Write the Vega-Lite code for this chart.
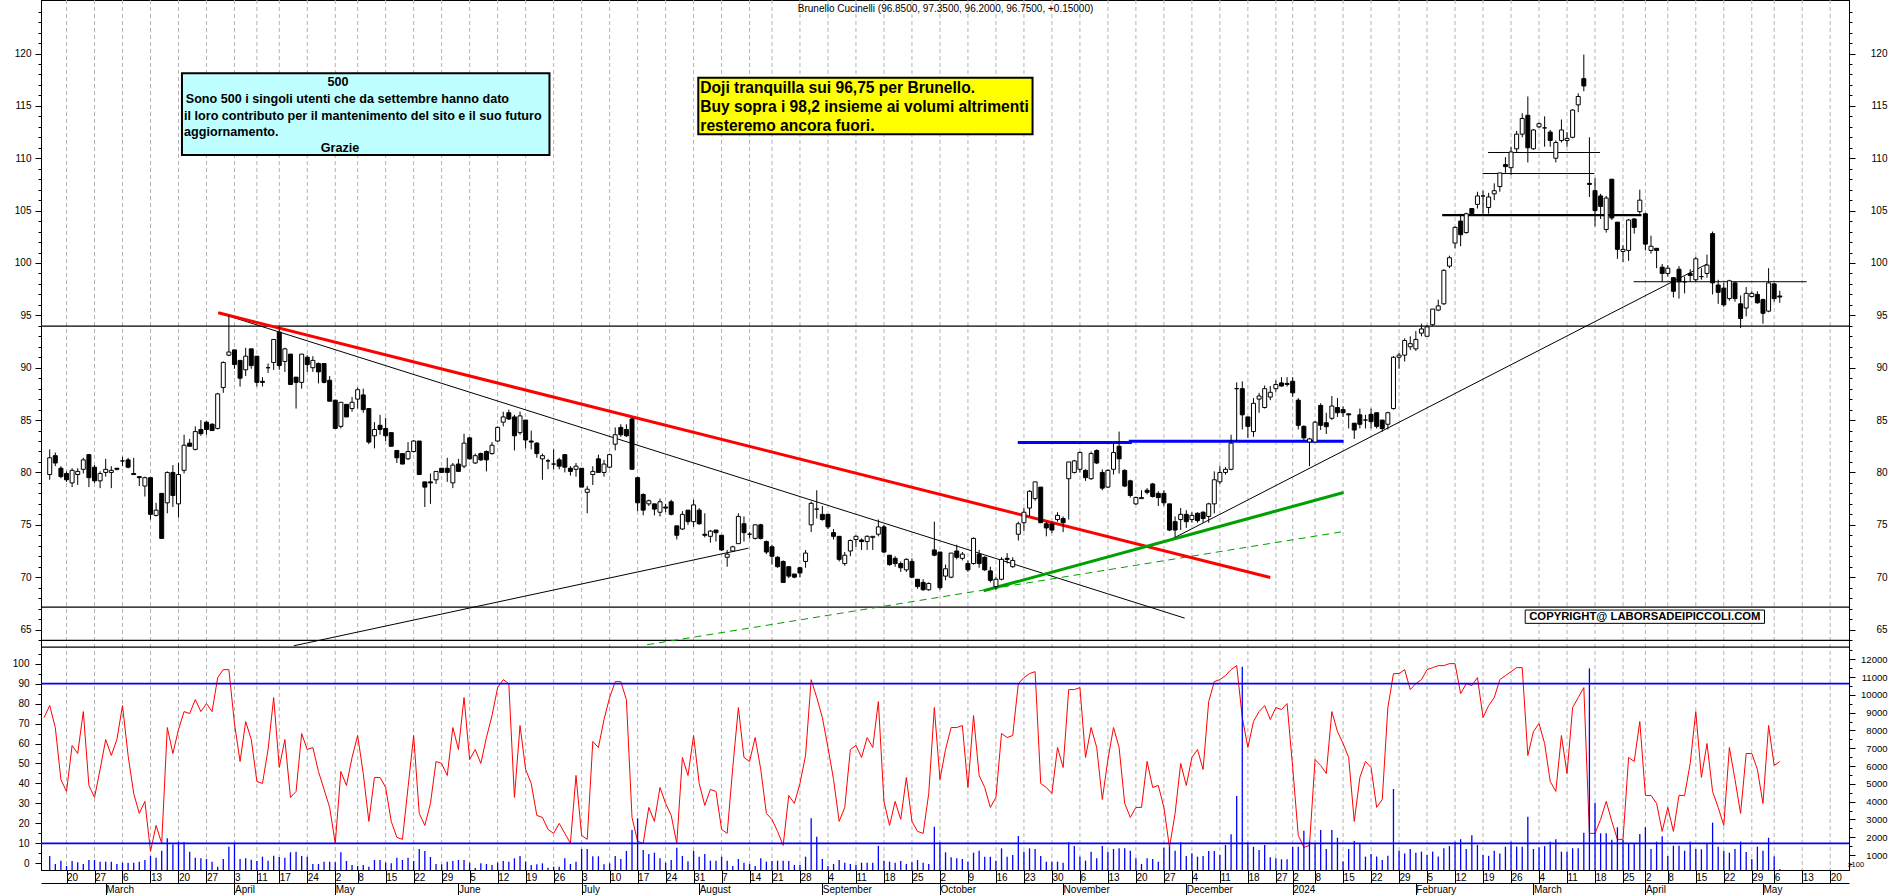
{
"$schema":"https://vega.github.io/schema/vega-lite/v6.json",
"autosize":"none",
"padding":{"left":41,"top":0,"right":41,"bottom":25},
"background":"white",
"width":1808,"height":870,
"config":{"view":{"stroke":"black","strokeWidth":1},"axis":{"labelFont":"Liberation Sans","labelColor":"black","tickColor":"black","domainColor":"black","labelFontSize":10,"grid":false,"title":null},"text":{"font":"Liberation Sans"}},
"resolve":{"scale":{"y":"independent"},"axis":{"x":"independent","y":"independent"}},
"datasets":{
"weeks":[{"i":4},{"i":9},{"i":14},{"i":19},{"i":24},{"i":29},{"i":34},{"i":38},{"i":42},{"i":47},{"i":52},{"i":56},{"i":61},{"i":66},{"i":71},{"i":76},{"i":81},{"i":86},{"i":91},{"i":96},{"i":101},{"i":106},{"i":111},{"i":116},{"i":121},{"i":126},{"i":130},{"i":135},{"i":140},{"i":145},{"i":150},{"i":155},{"i":160},{"i":165},{"i":170},{"i":175},{"i":180},{"i":185},{"i":190},{"i":195},{"i":200},{"i":205},{"i":210},{"i":215},{"i":220},{"i":223},{"i":227},{"i":232},{"i":237},{"i":242},{"i":247},{"i":252},{"i":257},{"i":262},{"i":267},{"i":272},{"i":277},{"i":282},{"i":286},{"i":290},{"i":295},{"i":300},{"i":305},{"i":309},{"i":314},{"i":319}],
"d":[
{"i":0,"k":73},
{"i":1,"o":79.8,"h":82.2,"l":79.3,"c":81.4,"k":79,"v":944},
{"i":2,"o":81.6,"h":81.9,"l":80.6,"c":80.9,"k":68,"v":494},
{"i":3,"o":80.4,"h":80.6,"l":79.45,"c":79.6,"k":42,"v":682},
{"i":4,"o":79.9,"h":80.1,"l":79.1,"c":79.3,"k":36,"v":382},
{"i":5,"o":79.0,"h":80.4,"l":78.6,"c":80.2,"k":59,"v":663},
{"i":6,"o":79.8,"h":80.4,"l":78.8,"c":80.1,"k":55,"v":588},
{"i":7,"o":80.3,"h":81.4,"l":79.9,"c":81.2,"k":76,"v":494},
{"i":8,"o":81.7,"h":81.7,"l":78.6,"c":79.5,"k":39,"v":720},
{"i":9,"o":80.5,"h":80.7,"l":79.0,"c":79.2,"k":33,"v":720},
{"i":10,"o":79.2,"h":80.1,"l":78.5,"c":79.9,"k":47,"v":626},
{"i":11,"o":80.0,"h":81.3,"l":79.6,"c":80.3,"k":62,"v":626},
{"i":12,"o":80.0,"h":80.6,"l":78.5,"c":80.2,"k":54,"v":626},
{"i":13,"o":80.4,"h":80.4,"l":80.2,"c":80.3,"k":62,"v":494},
{"i":14,"o":81.1,"h":81.5,"l":80.6,"c":81.1,"k":79,"v":570},
{"i":15,"o":81.2,"h":81.4,"l":80.4,"c":80.5,"k":54,"v":570},
{"i":16,"o":79.9,"h":81.4,"l":79.8,"c":79.8,"k":35,"v":570},
{"i":17,"o":79.6,"h":79.6,"l":78.7,"c":79.5,"k":25,"v":626},
{"i":18,"o":78.7,"h":79.6,"l":77.7,"c":79.5,"k":31,"v":720},
{"i":19,"o":79.5,"h":79.5,"l":75.5,"c":76.0,"k":6,"v":944},
{"i":20,"o":75.9,"h":77.1,"l":75.8,"c":76.4,"k":19,"v":851},
{"i":21,"o":78.0,"h":78.0,"l":73.7,"c":73.7,"k":10,"v":1244},
{"i":22,"o":77.1,"h":80.1,"l":76.1,"c":80.0,"k":68,"v":1937},
{"i":23,"o":80.0,"h":80.7,"l":76.7,"c":77.8,"k":55,"v":1600},
{"i":24,"o":77.0,"h":80.9,"l":75.7,"c":79.8,"k":67,"v":1750},
{"i":25,"o":80.2,"h":83.6,"l":79.9,"c":82.6,"k":76,"v":1731},
{"i":26,"o":82.8,"h":83.2,"l":82.5,"c":82.5,"k":75,"v":1188},
{"i":27,"o":82.2,"h":84.4,"l":82.1,"c":83.9,"k":82,"v":851},
{"i":28,"o":84.1,"h":85.0,"l":83.5,"c":83.7,"k":76,"v":813},
{"i":29,"o":84.8,"h":84.9,"l":83.6,"c":84.1,"k":80,"v":776},
{"i":30,"o":84.6,"h":84.7,"l":84.0,"c":84.0,"k":76,"v":626},
{"i":31,"o":84.2,"h":87.6,"l":84.1,"c":87.5,"k":93,"v":345},
{"i":32,"o":88.1,"h":90.6,"l":87.6,"c":90.5,"k":97,"v":776},
{"i":33,"o":91.2,"h":95.0,"l":91.1,"c":91.5,"k":97,"v":1462},
{"i":34,"o":91.7,"h":91.7,"l":89.9,"c":90.3,"k":70,"v":1712},
{"i":35,"o":90.7,"h":90.7,"l":88.2,"c":89.0,"k":51,"v":776},
{"i":36,"o":89.8,"h":91.9,"l":89.2,"c":91.1,"k":71,"v":813},
{"i":37,"o":91.8,"h":91.8,"l":89.9,"c":90.2,"k":62,"v":738},
{"i":38,"o":91.1,"h":91.1,"l":88.2,"c":88.6,"k":41,"v":663},
{"i":39,"o":88.7,"h":89.1,"l":88.2,"c":88.6,"k":40,"v":907},
{"i":40,"o":90.0,"h":90.4,"l":89.5,"c":90.0,"k":57,"v":682},
{"i":41,"o":90.5,"h":92.7,"l":89.8,"c":92.7,"k":83,"v":963},
{"i":42,"o":93.4,"h":93.9,"l":89.8,"c":90.2,"k":48,"v":888},
{"i":43,"o":90.6,"h":91.9,"l":89.6,"c":91.8,"k":62,"v":851},
{"i":44,"o":91.3,"h":91.3,"l":88.4,"c":88.4,"k":33,"v":1150},
{"i":45,"o":89.1,"h":89.1,"l":86.1,"c":88.6,"k":36,"v":1188},
{"i":46,"o":88.6,"h":91.3,"l":88.0,"c":91.3,"k":65,"v":944},
{"i":47,"o":91.0,"h":91.2,"l":89.6,"c":90.3,"k":57,"v":907},
{"i":48,"o":90.0,"h":91.1,"l":89.6,"c":90.7,"k":58,"v":494},
{"i":49,"o":90.4,"h":90.5,"l":88.5,"c":89.6,"k":46,"v":494},
{"i":50,"o":90.4,"h":90.4,"l":88.5,"c":88.6,"k":37,"v":626},
{"i":51,"o":88.8,"h":89.2,"l":86.8,"c":86.8,"k":28,"v":626},
{"i":52,"o":86.9,"h":86.9,"l":84.2,"c":84.2,"k":10,"v":588},
{"i":53,"o":84.4,"h":86.7,"l":84.2,"c":86.7,"k":46,"v":1150},
{"i":54,"o":86.5,"h":86.5,"l":85.3,"c":85.3,"k":39,"v":663},
{"i":55,"o":86.1,"h":87.2,"l":85.8,"c":86.7,"k":53,"v":438},
{"i":56,"o":87.0,"h":88.1,"l":86.1,"c":87.9,"k":64,"v":382},
{"i":57,"o":87.4,"h":88.0,"l":85.7,"c":86.0,"k":45,"v":438},
{"i":58,"o":86.1,"h":86.1,"l":82.7,"c":82.9,"k":21,"v":345},
{"i":59,"o":83.5,"h":84.8,"l":82.3,"c":84.1,"k":43,"v":720},
{"i":60,"o":84.5,"h":85.5,"l":83.6,"c":84.1,"k":43,"v":720},
{"i":61,"o":84.2,"h":85.2,"l":83.0,"c":83.5,"k":38,"v":570},
{"i":62,"o":83.8,"h":83.8,"l":82.5,"c":82.5,"k":21,"v":532},
{"i":63,"o":82.1,"h":82.1,"l":80.9,"c":81.4,"k":13,"v":851},
{"i":64,"o":81.8,"h":81.8,"l":80.8,"c":80.8,"k":12,"v":720},
{"i":65,"o":81.3,"h":82.9,"l":81.2,"c":82.0,"k":38,"v":851},
{"i":66,"o":82.0,"h":83.1,"l":81.9,"c":83.0,"k":64,"v":663},
{"i":67,"o":83.0,"h":83.0,"l":79.8,"c":79.8,"k":25,"v":1338},
{"i":68,"o":79.1,"h":79.1,"l":76.7,"c":78.6,"k":19,"v":1225},
{"i":69,"o":79.1,"h":79.9,"l":77.0,"c":79.0,"k":30,"v":888},
{"i":70,"o":79.3,"h":80.1,"l":78.9,"c":80.1,"k":51,"v":494},
{"i":71,"o":80.4,"h":80.4,"l":80.0,"c":80.0,"k":50,"v":476},
{"i":72,"o":80.4,"h":81.4,"l":79.1,"c":80.0,"k":44,"v":626},
{"i":73,"o":79.0,"h":80.9,"l":78.5,"c":80.7,"k":68,"v":663},
{"i":74,"o":80.8,"h":81.3,"l":80.1,"c":80.1,"k":57,"v":720},
{"i":75,"o":80.6,"h":83.7,"l":80.4,"c":82.8,"k":83,"v":720},
{"i":76,"o":83.3,"h":83.4,"l":81.2,"c":81.3,"k":52,"v":570},
{"i":77,"o":80.9,"h":81.8,"l":80.8,"c":81.6,"k":57,"v":270},
{"i":78,"o":81.8,"h":81.9,"l":81.1,"c":81.2,"k":50,"v":532},
{"i":79,"o":82.0,"h":82.1,"l":80.1,"c":81.2,"k":63,"v":494},
{"i":80,"o":81.8,"h":82.9,"l":81.7,"c":82.6,"k":74,"v":438},
{"i":81,"o":83.0,"h":84.4,"l":82.9,"c":84.3,"k":88,"v":570},
{"i":82,"o":84.8,"h":85.8,"l":84.4,"c":85.3,"k":92,"v":663},
{"i":83,"o":85.7,"h":86.0,"l":85.0,"c":85.1,"k":90,"v":626},
{"i":84,"o":85.3,"h":85.5,"l":82.1,"c":83.5,"k":33,"v":813},
{"i":85,"o":83.8,"h":85.8,"l":83.6,"c":85.4,"k":69,"v":944},
{"i":86,"o":85.0,"h":85.0,"l":82.3,"c":83.1,"k":47,"v":626},
{"i":87,"o":83.0,"h":84.0,"l":82.2,"c":82.9,"k":40,"v":438},
{"i":88,"o":82.8,"h":82.9,"l":81.4,"c":81.8,"k":24,"v":476},
{"i":89,"o":81.3,"h":81.8,"l":79.3,"c":81.6,"k":23,"v":532},
{"i":90,"o":81.1,"h":81.3,"l":80.3,"c":81.1,"k":17,"v":289},
{"i":91,"o":80.8,"h":82.2,"l":80.3,"c":80.8,"k":15,"v":345},
{"i":92,"o":81.2,"h":81.4,"l":80.3,"c":80.6,"k":20,"v":345},
{"i":93,"o":81.7,"h":81.7,"l":80.0,"c":80.5,"k":15,"v":813},
{"i":94,"o":80.4,"h":80.6,"l":79.7,"c":80.1,"k":10,"v":494},
{"i":95,"o":80.3,"h":80.9,"l":79.6,"c":80.6,"k":44,"v":626},
{"i":96,"o":80.4,"h":80.4,"l":78.6,"c":78.6,"k":14,"v":1338},
{"i":97,"o":78.1,"h":78.7,"l":76.1,"c":78.4,"k":12,"v":1338},
{"i":98,"o":79.8,"h":80.6,"l":78.8,"c":80.1,"k":61,"v":926},
{"i":99,"o":81.3,"h":81.7,"l":80.0,"c":80.0,"k":58,"v":926},
{"i":100,"o":80.0,"h":81.2,"l":79.6,"c":80.8,"k":72,"v":476},
{"i":101,"o":80.5,"h":81.8,"l":80.4,"c":81.7,"k":83,"v":532},
{"i":102,"o":82.7,"h":84.3,"l":82.1,"c":83.6,"k":91,"v":944},
{"i":103,"o":84.3,"h":84.6,"l":83.4,"c":83.6,"k":91,"v":776},
{"i":104,"o":84.1,"h":84.6,"l":83.4,"c":83.5,"k":82,"v":1225},
{"i":105,"o":85.1,"h":85.2,"l":80.3,"c":80.3,"k":23,"v":2406},
{"i":106,"o":79.5,"h":79.6,"l":76.3,"c":77.1,"k":11,"v":3062},
{"i":107,"o":77.9,"h":78.0,"l":75.9,"c":76.4,"k":10,"v":1282},
{"i":108,"o":77.0,"h":77.4,"l":76.8,"c":77.3,"k":28,"v":1057},
{"i":109,"o":77.0,"h":77.0,"l":75.9,"c":76.5,"k":21,"v":1132},
{"i":110,"o":76.2,"h":77.5,"l":75.8,"c":77.2,"k":38,"v":813},
{"i":111,"o":76.7,"h":77.0,"l":76.2,"c":76.6,"k":30,"v":570},
{"i":112,"o":77.2,"h":77.4,"l":75.9,"c":76.0,"k":24,"v":720},
{"i":113,"o":74.9,"h":74.9,"l":73.6,"c":74.0,"k":10,"v":1413},
{"i":114,"o":74.6,"h":76.3,"l":74.5,"c":76.0,"k":53,"v":944},
{"i":115,"o":76.4,"h":76.4,"l":75.0,"c":75.3,"k":44,"v":645},
{"i":116,"o":75.3,"h":77.4,"l":74.8,"c":76.9,"k":64,"v":1225},
{"i":117,"o":76.4,"h":76.6,"l":75.0,"c":75.1,"k":40,"v":907},
{"i":118,"o":74.1,"h":76.1,"l":73.8,"c":74.0,"k":29,"v":1057},
{"i":119,"o":73.9,"h":74.5,"l":73.3,"c":74.4,"k":37,"v":682},
{"i":120,"o":74.5,"h":74.5,"l":73.4,"c":74.25,"k":36,"v":682},
{"i":121,"o":74.0,"h":74.0,"l":72.5,"c":72.6,"k":17,"v":907},
{"i":122,"o":71.9,"h":72.6,"l":71.0,"c":72.2,"k":15,"v":682},
{"i":123,"o":72.5,"h":73.0,"l":72.4,"c":72.9,"k":48,"v":382},
{"i":124,"o":73.2,"h":76.1,"l":73.2,"c":75.8,"k":78,"v":776},
{"i":125,"o":75.1,"h":75.8,"l":73.4,"c":74.25,"k":53,"v":570},
{"i":126,"o":74.1,"h":74.3,"l":73.7,"c":74.1,"k":51,"v":494},
{"i":127,"o":73.7,"h":75.0,"l":73.6,"c":75.0,"k":63,"v":382},
{"i":128,"o":75.0,"h":75.1,"l":73.6,"c":73.7,"k":47,"v":813},
{"i":129,"o":73.4,"h":73.5,"l":72.2,"c":72.4,"k":25,"v":626},
{"i":130,"o":72.9,"h":73.1,"l":71.2,"c":72.0,"k":22,"v":663},
{"i":131,"o":71.9,"h":72.0,"l":70.9,"c":71.0,"k":16,"v":682},
{"i":132,"o":71.5,"h":71.6,"l":69.5,"c":69.5,"k":9,"v":682},
{"i":133,"o":71.0,"h":71.0,"l":69.9,"c":70.1,"k":34,"v":663},
{"i":134,"o":70.3,"h":70.3,"l":69.9,"c":70.0,"k":30,"v":438},
{"i":135,"o":70.9,"h":71.0,"l":70.0,"c":70.4,"k":40,"v":438},
{"i":136,"o":71.5,"h":72.6,"l":70.9,"c":72.3,"k":54,"v":907},
{"i":137,"o":75.0,"h":77.2,"l":74.3,"c":77.05,"k":92,"v":3062},
{"i":138,"o":76.5,"h":78.3,"l":75.6,"c":76.5,"k":83,"v":2031},
{"i":139,"o":76.0,"h":76.8,"l":75.4,"c":75.5,"k":73,"v":776},
{"i":140,"o":76.0,"h":76.0,"l":74.6,"c":74.8,"k":58,"v":382},
{"i":141,"o":74.25,"h":74.6,"l":73.6,"c":73.9,"k":42,"v":494},
{"i":142,"o":73.9,"h":73.9,"l":71.5,"c":71.7,"k":21,"v":720},
{"i":143,"o":71.3,"h":72.4,"l":71.1,"c":72.1,"k":28,"v":570},
{"i":144,"o":72.5,"h":73.6,"l":72.0,"c":73.5,"k":57,"v":494},
{"i":145,"o":73.6,"h":74.0,"l":72.9,"c":73.9,"k":59,"v":438},
{"i":146,"o":73.55,"h":73.7,"l":72.6,"c":73.4,"k":53,"v":570},
{"i":147,"o":73.4,"h":74.0,"l":72.6,"c":73.9,"k":63,"v":570},
{"i":148,"o":73.8,"h":73.9,"l":72.6,"c":73.9,"k":58,"v":570},
{"i":149,"o":74.1,"h":75.5,"l":73.9,"c":74.8,"k":81,"v":1507},
{"i":150,"o":74.8,"h":75.0,"l":72.3,"c":72.4,"k":31,"v":682},
{"i":151,"o":72.1,"h":72.1,"l":71.1,"c":71.2,"k":19,"v":626},
{"i":152,"o":71.8,"h":72.0,"l":71.0,"c":71.3,"k":31,"v":570},
{"i":153,"o":71.3,"h":71.5,"l":70.5,"c":70.9,"k":22,"v":663},
{"i":154,"o":70.7,"h":71.8,"l":70.5,"c":71.7,"k":43,"v":494},
{"i":155,"o":71.5,"h":71.8,"l":69.9,"c":70.0,"k":21,"v":588},
{"i":156,"o":69.8,"h":69.8,"l":68.9,"c":69.1,"k":16,"v":720},
{"i":157,"o":69.5,"h":69.8,"l":68.7,"c":68.8,"k":15,"v":570},
{"i":158,"o":68.8,"h":69.5,"l":68.7,"c":69.4,"k":35,"v":494},
{"i":159,"o":72.6,"h":75.3,"l":72.0,"c":72.1,"k":78,"v":2593},
{"i":160,"o":72.4,"h":72.4,"l":68.8,"c":69.0,"k":42,"v":1712},
{"i":161,"o":70.1,"h":71.2,"l":69.7,"c":70.8,"k":57,"v":1150},
{"i":162,"o":70.0,"h":72.3,"l":69.9,"c":72.3,"k":68,"v":869},
{"i":163,"o":72.5,"h":73.1,"l":71.7,"c":71.9,"k":68,"v":813},
{"i":164,"o":71.8,"h":72.4,"l":71.6,"c":72.2,"k":69,"v":776},
{"i":165,"o":71.3,"h":71.6,"l":70.5,"c":70.7,"k":38,"v":626},
{"i":166,"o":71.3,"h":73.8,"l":71.2,"c":73.7,"k":74,"v":1132},
{"i":167,"o":72.2,"h":72.6,"l":70.9,"c":71.3,"k":44,"v":1244},
{"i":168,"o":71.9,"h":72.0,"l":70.6,"c":70.7,"k":38,"v":907},
{"i":169,"o":70.6,"h":71.0,"l":69.5,"c":69.7,"k":28,"v":907},
{"i":170,"o":69.1,"h":70.0,"l":68.8,"c":69.8,"k":33,"v":682},
{"i":171,"o":69.8,"h":71.9,"l":69.7,"c":71.7,"k":65,"v":1375},
{"i":172,"o":71.8,"h":72.3,"l":71.3,"c":71.7,"k":63,"v":907},
{"i":173,"o":71.0,"h":71.9,"l":70.9,"c":71.6,"k":64,"v":1001},
{"i":174,"o":74.1,"h":75.3,"l":73.5,"c":75.1,"k":90,"v":2069},
{"i":175,"o":75.2,"h":76.6,"l":74.4,"c":76.2,"k":93,"v":1188},
{"i":176,"o":76.6,"h":78.3,"l":75.8,"c":78.2,"k":95,"v":1375},
{"i":177,"o":77.5,"h":79.1,"l":77.3,"c":79.1,"k":96,"v":1338},
{"i":178,"o":78.6,"h":78.6,"l":75.2,"c":75.2,"k":40,"v":944},
{"i":179,"o":75.1,"h":75.3,"l":73.9,"c":74.7,"k":38,"v":626},
{"i":180,"o":75.1,"h":75.3,"l":74.2,"c":74.5,"k":35,"v":626},
{"i":181,"o":75.5,"h":76.2,"l":75.3,"c":75.9,"k":58,"v":626},
{"i":182,"o":75.6,"h":75.8,"l":74.3,"c":75.2,"k":48,"v":570},
{"i":183,"o":79.4,"h":81.0,"l":75.5,"c":81.0,"k":87,"v":1712},
{"i":184,"o":80.0,"h":81.2,"l":79.9,"c":81.1,"k":87,"v":1507},
{"i":185,"o":80.3,"h":82.0,"l":80.0,"c":81.9,"k":88,"v":907},
{"i":186,"o":80.2,"h":80.3,"l":79.2,"c":79.5,"k":53,"v":682},
{"i":187,"o":79.4,"h":82.0,"l":79.3,"c":81.8,"k":68,"v":1188},
{"i":188,"o":82.1,"h":82.2,"l":80.8,"c":80.9,"k":58,"v":813},
{"i":189,"o":80.0,"h":80.3,"l":78.3,"c":78.5,"k":32,"v":1507},
{"i":190,"o":78.6,"h":80.3,"l":78.5,"c":80.2,"k":52,"v":1188},
{"i":191,"o":80.3,"h":82.8,"l":79.8,"c":81.9,"k":68,"v":1338},
{"i":192,"o":82.5,"h":83.9,"l":79.9,"c":81.3,"k":58,"v":1375},
{"i":193,"o":80.2,"h":80.3,"l":78.6,"c":78.7,"k":30,"v":1375},
{"i":194,"o":79.2,"h":79.3,"l":77.6,"c":77.8,"k":23,"v":1244},
{"i":195,"o":77.0,"h":77.7,"l":76.9,"c":77.6,"k":28,"v":813},
{"i":196,"o":77.5,"h":78.3,"l":77.5,"c":77.6,"k":28,"v":494},
{"i":197,"o":78.3,"h":78.5,"l":77.9,"c":78.1,"k":51,"v":813},
{"i":198,"o":78.9,"h":79.0,"l":77.6,"c":77.7,"k":38,"v":776},
{"i":199,"o":78.0,"h":78.2,"l":76.8,"c":77.6,"k":39,"v":626},
{"i":200,"o":78.0,"h":78.3,"l":76.8,"c":77.1,"k":28,"v":1413},
{"i":201,"o":77.0,"h":77.0,"l":74.4,"c":74.5,"k":8,"v":1462},
{"i":202,"o":75.3,"h":75.8,"l":73.8,"c":74.5,"k":25,"v":1244},
{"i":203,"o":75.5,"h":76.6,"l":74.5,"c":76.0,"k":50,"v":1712},
{"i":204,"o":76.0,"h":76.4,"l":74.7,"c":75.3,"k":39,"v":944},
{"i":205,"o":75.5,"h":76.2,"l":75.2,"c":75.9,"k":53,"v":1094},
{"i":206,"o":76.1,"h":76.2,"l":75.2,"c":75.4,"k":57,"v":907},
{"i":207,"o":76.2,"h":76.3,"l":75.2,"c":75.6,"k":47,"v":944},
{"i":208,"o":75.8,"h":77.1,"l":75.2,"c":77.0,"k":81,"v":1225},
{"i":209,"o":77.0,"h":80.1,"l":76.1,"c":79.3,"k":91,"v":1225},
{"i":210,"o":79.1,"h":80.6,"l":78.9,"c":80.0,"k":92,"v":1001},
{"i":211,"o":80.0,"h":80.5,"l":79.8,"c":80.3,"k":94,"v":1562},
{"i":212,"o":80.3,"h":83.6,"l":80.2,"c":82.8,"k":97,"v":2162},
{"i":213,"o":88.0,"h":88.6,"l":83.0,"c":88.0,"k":99,"v":4317},
{"i":214,"o":88.0,"h":88.7,"l":84.1,"c":85.5,"k":73,"v":11587},
{"i":215,"o":85.3,"h":85.3,"l":83.3,"c":84.4,"k":58,"v":1712},
{"i":216,"o":83.9,"h":87.1,"l":83.4,"c":86.6,"k":71,"v":1462},
{"i":217,"o":87.0,"h":87.6,"l":85.7,"c":87.3,"k":76,"v":1282},
{"i":218,"o":86.2,"h":88.3,"l":86.1,"c":88.0,"k":79,"v":1562},
{"i":219,"o":87.2,"h":88.25,"l":86.9,"c":87.65,"k":72,"v":869},
{"i":220,"o":88.0,"h":88.8,"l":87.7,"c":88.4,"k":78,"v":813},
{"i":221,"o":88.55,"h":89.1,"l":88.2,"c":88.25,"k":77,"v":757},
{"i":222,"o":88.5,"h":89.1,"l":88.2,"c":88.4,"k":80,"v":757},
{"i":223,"o":88.7,"h":89.1,"l":87.2,"c":87.6,"k":48,"v":1462},
{"i":224,"o":86.9,"h":87.1,"l":84.1,"c":84.5,"k":14,"v":1470},
{"i":225,"o":84.4,"h":84.5,"l":83.0,"c":83.3,"k":8,"v":2370},
{"i":226,"o":82.9,"h":83.3,"l":80.6,"c":83.2,"k":9,"v":1750},
{"i":227,"o":82.9,"h":84.9,"l":82.8,"c":84.8,"k":52,"v":1660},
{"i":228,"o":86.4,"h":86.6,"l":84.05,"c":84.5,"k":49,"v":2400},
{"i":229,"o":84.75,"h":85.7,"l":83.67,"c":84.37,"k":45,"v":1340},
{"i":230,"o":85.17,"h":87.3,"l":85.0,"c":86.34,"k":76,"v":2400},
{"i":231,"o":86.2,"h":87.1,"l":85.3,"c":85.7,"k":66,"v":1970},
{"i":232,"o":86.0,"h":86.3,"l":85.3,"c":85.7,"k":60,"v":630},
{"i":233,"o":85.6,"h":85.6,"l":84.2,"c":85.5,"k":53,"v":1340},
{"i":234,"o":84.7,"h":84.7,"l":83.2,"c":84.05,"k":21,"v":1790},
{"i":235,"o":85.5,"h":86.1,"l":84.2,"c":84.6,"k":43,"v":1620},
{"i":236,"o":85.0,"h":85.5,"l":84.2,"c":85.0,"k":51,"v":910},
{"i":237,"o":85.55,"h":86.1,"l":84.2,"c":84.85,"k":48,"v":1060},
{"i":238,"o":85.7,"h":85.7,"l":84.2,"c":84.4,"k":28,"v":910},
{"i":239,"o":85.0,"h":85.0,"l":83.9,"c":84.2,"k":32,"v":720},
{"i":240,"o":84.6,"h":85.8,"l":84.1,"c":85.7,"k":78,"v":960},
{"i":241,"o":86.1,"h":91.1,"l":86.0,"c":91.0,"k":95,"v":4710},
{"i":242,"o":91.0,"h":91.4,"l":89.9,"c":91.2,"k":95,"v":1240},
{"i":243,"o":91.2,"h":92.8,"l":90.6,"c":92.6,"k":97,"v":1080},
{"i":244,"o":92.0,"h":93.0,"l":91.7,"c":92.3,"k":87,"v":1340},
{"i":245,"o":91.8,"h":93.5,"l":91.6,"c":92.7,"k":90,"v":1130},
{"i":246,"o":93.3,"h":94.2,"l":93.0,"c":93.7,"k":92,"v":1190},
{"i":247,"o":93.0,"h":94.1,"l":93.0,"c":93.9,"k":97,"v":1000},
{"i":248,"o":94.1,"h":95.6,"l":94.0,"c":95.6,"k":98,"v":1190},
{"i":249,"o":95.5,"h":96.5,"l":95.4,"c":95.9,"k":99,"v":910},
{"i":250,"o":96.1,"h":99.4,"l":96.0,"c":99.3,"k":99,"v":1380},
{"i":251,"o":99.7,"h":100.7,"l":99.5,"c":100.5,"k":100,"v":1500},
{"i":252,"o":101.9,"h":103.5,"l":101.4,"c":103.4,"k":100,"v":1750},
{"i":253,"o":104.0,"h":104.7,"l":101.6,"c":102.7,"k":85,"v":1890},
{"i":254,"o":102.9,"h":104.8,"l":102.8,"c":104.7,"k":90,"v":1340},
{"i":255,"o":105.2,"h":105.2,"l":104.6,"c":104.7,"k":89,"v":2110},
{"i":256,"o":105.6,"h":106.8,"l":105.2,"c":106.4,"k":93,"v":1560},
{"i":257,"o":106.4,"h":106.9,"l":104.7,"c":106.4,"k":73,"v":1000},
{"i":258,"o":105.3,"h":106.7,"l":104.7,"c":106.3,"k":79,"v":950},
{"i":259,"o":106.6,"h":107.6,"l":106.0,"c":106.9,"k":83,"v":1240},
{"i":260,"o":107.3,"h":108.6,"l":106.8,"c":108.6,"k":92,"v":1090},
{"i":261,"o":109.4,"h":110.1,"l":108.6,"c":109.2,"k":94,"v":1470},
{"i":262,"o":109.1,"h":111.1,"l":108.4,"c":110.6,"k":96,"v":1750},
{"i":263,"o":110.9,"h":112.6,"l":110.6,"c":112.3,"k":98,"v":1470},
{"i":264,"o":112.3,"h":114.3,"l":112.0,"c":113.8,"k":98,"v":1470},
{"i":265,"o":114.1,"h":115.9,"l":109.6,"c":111.0,"k":54,"v":3150},
{"i":266,"o":110.9,"h":112.8,"l":110.8,"c":112.7,"k":66,"v":1340},
{"i":267,"o":113.0,"h":113.4,"l":112.9,"c":113.3,"k":70,"v":1430},
{"i":268,"o":112.9,"h":114.0,"l":111.1,"c":112.9,"k":60,"v":1500},
{"i":269,"o":112.5,"h":112.7,"l":111.1,"c":111.7,"k":41,"v":1750},
{"i":270,"o":110.0,"h":111.7,"l":109.6,"c":111.5,"k":36,"v":1890},
{"i":271,"o":111.7,"h":113.7,"l":111.5,"c":112.7,"k":64,"v":1190},
{"i":272,"o":111.7,"h":112.5,"l":111.1,"c":111.9,"k":45,"v":1190},
{"i":273,"o":112.0,"h":114.7,"l":111.9,"c":114.6,"k":78,"v":1380},
{"i":274,"o":115.1,"h":116.2,"l":114.4,"c":115.9,"k":83,"v":1380},
{"i":275,"o":117.6,"h":119.9,"l":116.4,"c":116.9,"k":88,"v":2250},
{"i":276,"o":107.6,"h":112.0,"l":106.3,"c":107.5,"k":15,"v":11490},
{"i":277,"o":106.9,"h":108.1,"l":103.5,"c":105.0,"k":15,"v":3940},
{"i":278,"o":106.4,"h":106.6,"l":104.2,"c":105.4,"k":22,"v":2220},
{"i":279,"o":103.2,"h":106.4,"l":102.9,"c":106.2,"k":31,"v":2220},
{"i":280,"o":108.0,"h":108.0,"l":104.1,"c":104.3,"k":21,"v":1860},
{"i":281,"o":103.9,"h":103.9,"l":100.4,"c":101.3,"k":12,"v":2560},
{"i":282,"o":101.1,"h":101.7,"l":100.1,"c":101.3,"k":12,"v":1860},
{"i":283,"o":101.2,"h":104.2,"l":100.2,"c":104.1,"k":53,"v":1620},
{"i":284,"o":104.2,"h":104.3,"l":102.8,"c":103.4,"k":51,"v":1620},
{"i":285,"o":104.9,"h":107.0,"l":104.7,"c":106.0,"k":71,"v":2180},
{"i":286,"o":104.7,"h":104.8,"l":101.2,"c":101.8,"k":34,"v":2560},
{"i":287,"o":101.2,"h":102.6,"l":100.9,"c":101.6,"k":34,"v":1340},
{"i":288,"o":101.4,"h":101.4,"l":99.5,"c":101.2,"k":30,"v":1750},
{"i":289,"o":99.6,"h":99.9,"l":98.2,"c":99.0,"k":16,"v":2060},
{"i":290,"o":99.0,"h":99.8,"l":98.7,"c":99.5,"k":28,"v":950},
{"i":291,"o":98.6,"h":98.6,"l":96.7,"c":97.3,"k":16,"v":1520},
{"i":292,"o":99.4,"h":99.7,"l":96.6,"c":98.2,"k":34,"v":1520},
{"i":293,"o":98.2,"h":98.7,"l":97.1,"c":98.2,"k":34,"v":1240},
{"i":294,"o":99.0,"h":99.4,"l":98.2,"c":98.8,"k":50,"v":1750},
{"i":295,"o":98.4,"h":100.6,"l":98.2,"c":100.4,"k":76,"v":1340},
{"i":296,"o":98.7,"h":99.5,"l":98.4,"c":98.7,"k":43,"v":1320},
{"i":297,"o":99.0,"h":100.8,"l":98.6,"c":99.8,"k":60,"v":1620},
{"i":298,"o":102.8,"h":103.0,"l":97.0,"c":98.1,"k":36,"v":2820},
{"i":299,"o":97.9,"h":98.4,"l":96.1,"c":97.2,"k":28,"v":1470},
{"i":300,"o":97.6,"h":98.1,"l":95.8,"c":96.0,"k":19,"v":1230},
{"i":301,"o":96.6,"h":98.4,"l":96.4,"c":98.3,"k":58,"v":1130},
{"i":302,"o":98.1,"h":98.2,"l":96.3,"c":96.6,"k":42,"v":1340},
{"i":303,"o":96.1,"h":96.9,"l":93.8,"c":94.7,"k":25,"v":1750},
{"i":304,"o":95.7,"h":97.7,"l":94.9,"c":97.1,"k":55,"v":1170},
{"i":305,"o":96.8,"h":97.3,"l":96.7,"c":97.1,"k":55,"v":780},
{"i":306,"o":97.0,"h":97.3,"l":96.1,"c":96.2,"k":47,"v":1470},
{"i":307,"o":96.5,"h":96.6,"l":94.2,"c":95.2,"k":30,"v":1240},
{"i":308,"o":95.4,"h":99.5,"l":95.3,"c":98.1,"k":69,"v":1970},
{"i":309,"o":98.0,"h":98.1,"l":96.3,"c":96.6,"k":49,"v":910},
{"i":310,"o":96.85,"h":97.35,"l":96.2,"c":96.75,"k":51,"v":220}
]
},
"layer":[
{"data":{"name":"weeks"},"mark":{"type":"rule","color":"#b4b4b4","strokeDash":[4,3],"strokeWidth":1},
 "encoding":{"x":{"field":"i","type":"quantitative","scale":{"domain":[0.337,321.47],"nice":false,"zero":false},
  "axis":{"orient":"bottom","values":[4,9,14,19,24,29,34,38,42,47,52,56,61,66,71,76,81,86,91,96,101,106,111,116,121,126,130,135,140,145,150,155,160,165,170,175,180,185,190,195,200,205,210,215,220,223,227,232,237,242,247,252,257,262,267,272,277,282,286,290,295,300,305,309,314,319],
  "labelExpr":"['20','27','6','13','20','27','3','11','17','24','2','8','15','22','29','5','12','19','26','3','10','17','24','31','7','14','21','28','4','11','18','25','2','9','16','23','30','6','13','20','27','4','11','18','27','2','8','15','22','29','5','12','19','26','4','11','18','25','2','8','15','22','29','6','13','20'][indexof([4,9,14,19,24,29,34,38,42,47,52,56,61,66,71,76,81,86,91,96,101,106,111,116,121,126,130,135,140,145,150,155,160,165,170,175,180,185,190,195,200,205,210,215,220,223,227,232,237,242,247,252,257,262,267,272,277,282,286,290,295,300,305,309,314,319], datum.value)]",
  "tickSize":13,"labelAlign":"left","labelBaseline":"top","labelPadding":-11,"labelDx":2,"labelFontSize":10,"labelFlush":false,"labelOverlap":false,"labelBound":false}}}},
{"data":{"values":[{"p":93.98},{"p":67.14},{"p":63.96},{"p":63.33}]},"mark":{"type":"rule","color":"black","strokeWidth":1.3},
 "encoding":{"y":{"field":"p","type":"quantitative","scale":{"domain":[42.04,125.11],"nice":false,"zero":false},"axis":null}}},
{"data":{"values":[{"g":"a","i":31.1,"p":95.25},{"g":"a","i":203.7,"p":66.09},{"g":"b","i":44.6,"p":63.45},{"g":"b","i":125.8,"p":72.77},{"g":"c","i":200.9,"p":73.5},{"g":"c","i":297,"p":99.9},{"g":"d","i":257.9,"p":110.55},{"g":"d","i":277.9,"p":110.55},{"g":"e","i":256.9,"p":108.54},{"g":"e","i":276.9,"p":108.54},{"g":"f","i":283.9,"p":98.21},{"g":"f","i":314.8,"p":98.21}]},
 "mark":{"type":"line","color":"black","strokeWidth":1},
 "encoding":{"x":{"field":"i","type":"quantitative","scale":{"domain":[0.337,321.47],"nice":false,"zero":false},"axis":null},"y":{"field":"p","type":"quantitative","scale":{"domain":[42.04,125.11],"nice":false,"zero":false},"axis":null},"detail":{"field":"g"}}},
{"data":{"values":[{"i":249.7,"p":104.57},{"i":285.3,"p":104.57}]},"mark":{"type":"line","color":"black","strokeWidth":2.2},
 "encoding":{"x":{"field":"i","type":"quantitative","scale":{"domain":[0.337,321.47],"nice":false,"zero":false},"axis":null},"y":{"field":"p","type":"quantitative","scale":{"domain":[42.04,125.11],"nice":false,"zero":false},"axis":null}}},
{"data":{"values":[{"i":107.7,"p":63.55},{"i":232.1,"p":74.36}]},"mark":{"type":"line","color":"#00a000","strokeWidth":1,"strokeDash":[7,5]},
 "encoding":{"x":{"field":"i","type":"quantitative","scale":{"domain":[0.337,321.47],"nice":false,"zero":false},"axis":null},"y":{"field":"p","type":"quantitative","scale":{"domain":[42.04,125.11],"nice":false,"zero":false},"axis":null}}},
{"data":{"values":[{"i":31.1,"p":95.25},{"i":219,"p":69.97}]},"mark":{"type":"line","color":"#ff0000","strokeWidth":3},
 "encoding":{"x":{"field":"i","type":"quantitative","scale":{"domain":[0.337,321.47],"nice":false,"zero":false},"axis":null},"y":{"field":"p","type":"quantitative","scale":{"domain":[42.04,125.11],"nice":false,"zero":false},"axis":null}}},
{"data":{"values":[{"i":167.8,"p":68.7},{"i":232.1,"p":78.08}]},"mark":{"type":"line","color":"#00a000","strokeWidth":3},
 "encoding":{"x":{"field":"i","type":"quantitative","scale":{"domain":[0.337,321.47],"nice":false,"zero":false},"axis":null},"y":{"field":"p","type":"quantitative","scale":{"domain":[42.04,125.11],"nice":false,"zero":false},"axis":null}}},
{"data":{"values":[{"i":173.9,"p":82.85},{"i":194,"p":82.85},{"i":194,"p":82.97},{"i":232.1,"p":82.97}]},"mark":{"type":"line","color":"#0000ff","strokeWidth":3},
 "encoding":{"x":{"field":"i","type":"quantitative","scale":{"domain":[0.337,321.47],"nice":false,"zero":false},"axis":null},"y":{"field":"p","type":"quantitative","scale":{"domain":[42.04,125.11],"nice":false,"zero":false},"axis":null}}},
{"data":{"name":"d"},"transform":[{"filter":"isValid(datum.o)"}],"mark":{"type":"rule","color":"black","strokeWidth":1},
 "encoding":{"x":{"field":"i","type":"quantitative","scale":{"domain":[0.337,321.47],"nice":false,"zero":false},"axis":null},
  "y":{"field":"l","type":"quantitative","scale":{"domain":[42.04,125.11],"nice":false,"zero":false},"axis":{"orient":"left","values":[65,70,75,80,85,90,95,100,105,110,115,120],"tickSize":6,"labelPadding":4,"labelFontSize":10}},
  "y2":{"field":"h"}}},
{"data":{"name":"d"},"transform":[{"filter":"isValid(datum.o)"}],"mark":{"type":"bar","width":4,"stroke":"black","strokeWidth":1},
 "encoding":{"x":{"field":"i","type":"quantitative","scale":{"domain":[0.337,321.47],"nice":false,"zero":false},"axis":null},
  "y":{"field":"o","type":"quantitative","scale":{"domain":[42.04,125.11],"nice":false,"zero":false},"axis":{"orient":"right","values":[65,70,75,80,85,90,95,100,105,110,115,120],"tickSize":6,"labelPadding":32,"labelAlign":"right","labelFontSize":10}},
  "y2":{"field":"c"},
  "fill":{"condition":{"test":"datum.c < datum.o","value":"black"},"value":"white"}}},
{"data":{"values":[{"p":100}]},"mark":{"type":"rule","opacity":0},
 "encoding":{"y":{"field":"p","type":"quantitative","scale":{"domain":[42.04,125.11],"nice":false,"zero":false},"axis":{"orient":"left","values":[64,66,67,68,69,71,72,73,74,76,77,78,79,81,82,83,84,86,87,88,89,91,92,93,94,96,97,98,99,101,102,103,104,106,107,108,109,111,112,113,114,116,117,118,119,121,122,123,124],"tickSize":3,"labels":false,"domain":false}}}},
{"data":{"values":[{"p":100}]},"mark":{"type":"rule","opacity":0},
 "encoding":{"y":{"field":"p","type":"quantitative","scale":{"domain":[42.04,125.11],"nice":false,"zero":false},"axis":{"orient":"right","values":[64,66,67,68,69,71,72,73,74,76,77,78,79,81,82,83,84,86,87,88,89,91,92,93,94,96,97,98,99,101,102,103,104,106,107,108,109,111,112,113,114,116,117,118,119,121,122,123,124],"tickSize":3,"labels":false,"domain":false}}}},
{"data":{"values":[{"x1":24.62,"x2":90.26,"y1":118.11,"y2":110.3}]},"mark":{"type":"rect","fill":"#bfffff","stroke":"black","strokeWidth":2},
 "encoding":{"x":{"field":"x1","type":"quantitative","scale":{"domain":[0.337,321.47],"nice":false,"zero":false},"axis":null},"x2":{"field":"x2"},"y":{"field":"y1","type":"quantitative","scale":{"domain":[42.04,125.11],"nice":false,"zero":false},"axis":null},"y2":{"field":"y2"}}},
{"data":{"values":[{"x1":116.84,"x2":176.54,"y1":117.69,"y2":112.29}]},"mark":{"type":"rect","fill":"#ffff00","stroke":"black","strokeWidth":2},
 "encoding":{"x":{"field":"x1","type":"quantitative","scale":{"domain":[0.337,321.47],"nice":false,"zero":false},"axis":null},"x2":{"field":"x2"},"y":{"field":"y1","type":"quantitative","scale":{"domain":[42.04,125.11],"nice":false,"zero":false},"axis":null},"y2":{"field":"y2"}}},
{"data":{"values":[{"x1":264.53,"x2":307.27,"y1":66.86,"y2":65.59}]},"mark":{"type":"rect","fill":"white","stroke":"black","strokeWidth":1},
 "encoding":{"x":{"field":"x1","type":"quantitative","scale":{"domain":[0.337,321.47],"nice":false,"zero":false},"axis":null},"x2":{"field":"x2"},"y":{"field":"y1","type":"quantitative","scale":{"domain":[42.04,125.11],"nice":false,"zero":false},"axis":null},"y2":{"field":"y2"}}},
{"data":{"values":[{"t":"500","x":50.6,"y":117.25},{"t":"Sono 500 i singoli utenti che da settembre hanno dato","x":25.3,"y":115.62},{"t":"il loro contributo per il mantenimento del sito e il suo futuro","x":25.0,"y":114.06},{"t":"aggiornamento.","x":25.0,"y":112.53},{"t":"Grazie","x":49.4,"y":111.0}]},
 "mark":{"type":"text","align":"left","baseline":"middle","fontSize":12.6,"font":"Liberation Sans","fontWeight":"bold","color":"black"},
 "encoding":{"x":{"field":"x","type":"quantitative","scale":{"domain":[0.337,321.47],"nice":false,"zero":false},"axis":null},"y":{"field":"y","type":"quantitative","scale":{"domain":[42.04,125.11],"nice":false,"zero":false},"axis":null},"text":{"field":"t"}}},
{"data":{"values":[{"t":"Doji tranquilla sui 96,75 per Brunello.","x":117.2,"y":116.74},{"t":"Buy sopra i 98,2 insieme ai volumi altrimenti","x":117.2,"y":114.92},{"t":"resteremo ancora fuori.","x":117.2,"y":113.11}]},
 "mark":{"type":"text","align":"left","baseline":"middle","fontSize":15.6,"font":"Liberation Sans","fontWeight":"bold","color":"black"},
 "encoding":{"x":{"field":"x","type":"quantitative","scale":{"domain":[0.337,321.47],"nice":false,"zero":false},"axis":null},"y":{"field":"y","type":"quantitative","scale":{"domain":[42.04,125.11],"nice":false,"zero":false},"axis":null},"text":{"field":"t"}}},
{"data":{"values":[{"t":"COPYRIGHT@ LABORSADEIPICCOLI.COM","x":285.9,"y":66.22}]},
 "mark":{"type":"text","align":"center","baseline":"middle","fontSize":11.3,"fontWeight":"bold","color":"black"},
 "encoding":{"x":{"field":"x","type":"quantitative","scale":{"domain":[0.337,321.47],"nice":false,"zero":false},"axis":null},"y":{"field":"y","type":"quantitative","scale":{"domain":[42.04,125.11],"nice":false,"zero":false},"axis":null},"text":{"field":"t"}}},
{"data":{"values":[{"t":"Brunello Cucinelli (96.8500, 97.3500, 96.2000, 96.7500, +0.15000)","x":161,"y":124.25}]},
 "mark":{"type":"text","align":"center","baseline":"middle","fontSize":10,"color":"black"},
 "encoding":{"x":{"field":"x","type":"quantitative","scale":{"domain":[0.337,321.47],"nice":false,"zero":false},"axis":null},"y":{"field":"y","type":"quantitative","scale":{"domain":[42.04,125.11],"nice":false,"zero":false},"axis":null},"text":{"field":"t"}}},
{"data":{"name":"d"},"mark":{"type":"line","color":"#ff0000","strokeWidth":1},
 "encoding":{"x":{"field":"i","type":"quantitative","scale":{"domain":[0.337,321.47],"nice":false,"zero":false},
  "axis":{"orient":"bottom","offset":13,"values":[11,34,52,74,96,117,139,160,182,204,223,245,266,286,307],
  "labelExpr":"['March','April','May','June','July','August','September','October','November','December','2024','February','March','April','May'][indexof([11,34,52,74,96,117,139,160,182,204,223,245,266,286,307], datum.value)]",
  "tickSize":12,"labelAlign":"left","labelBaseline":"top","labelPadding":-11,"labelDx":2,"labelFontSize":10,"labelFlush":false,"labelOverlap":false,"labelBound":false}},
  "y":{"field":"k","type":"quantitative","scale":{"domain":[-3.34,432.33],"nice":false,"zero":false},"axis":{"orient":"left","values":[0,10,20,30,40,50,60,70,80,90,100],"tickSize":6,"labelPadding":6,"labelFontSize":10}}}},
{"data":{"name":"d"},"transform":[{"filter":"isValid(datum.v)"}],"mark":{"type":"rule","color":"#0000ff","strokeWidth":1.3,"clip":true},
 "encoding":{"x":{"field":"i","type":"quantitative","scale":{"domain":[0.337,321.47],"nice":false,"zero":false},"axis":null},
  "y":{"field":"v","type":"quantitative","scale":{"domain":[157,49066],"nice":false,"zero":false},"axis":{"orient":"right","values":[1000,2000,3000,4000,5000,6000,7000,8000,9000,10000,11000,12000],"format":"d","tickSize":6,"labelPadding":32,"labelAlign":"right","labelFontSize":9.5}},
  "y2":{"datum":0}}},
{"data":{"values":[{"k":90},{"k":10}]},"mark":{"type":"rule","color":"#0000ff","strokeWidth":1.6},
 "encoding":{"y":{"field":"k","type":"quantitative","scale":{"domain":[-3.34,432.33],"nice":false,"zero":false},"axis":null}}},
{"data":{"values":[{"k":50}]},"mark":{"type":"rule","opacity":0},
 "encoding":{"y":{"field":"k","type":"quantitative","scale":{"domain":[-3.34,432.33],"nice":false,"zero":false},"axis":{"orient":"left","values":[5,15,25,35,45,55,65,75,85,95,105],"tickSize":3,"labels":false,"domain":false}}}},
{"data":{"values":[{"v":5000}]},"mark":{"type":"rule","opacity":0},
 "encoding":{"y":{"field":"v","type":"quantitative","scale":{"domain":[157,49066],"nice":false,"zero":false},"axis":{"orient":"right","values":[500,1500,2500,3500,4500,5500,6500,7500,8500,9500,10500,11500,12500],"tickSize":3,"labels":false,"domain":false}}}},
{"data":{"values":[{"t":"x100","x":323.6,"v":440}]},"mark":{"type":"text","align":"center","baseline":"middle","fontSize":7.5,"color":"black"},
 "encoding":{"x":{"field":"x","type":"quantitative","scale":{"domain":[0.337,321.47],"nice":false,"zero":false},"axis":null},"y":{"field":"v","type":"quantitative","scale":{"domain":[157,49066],"nice":false,"zero":false},"axis":null},"text":{"field":"t"}}}
]
}
